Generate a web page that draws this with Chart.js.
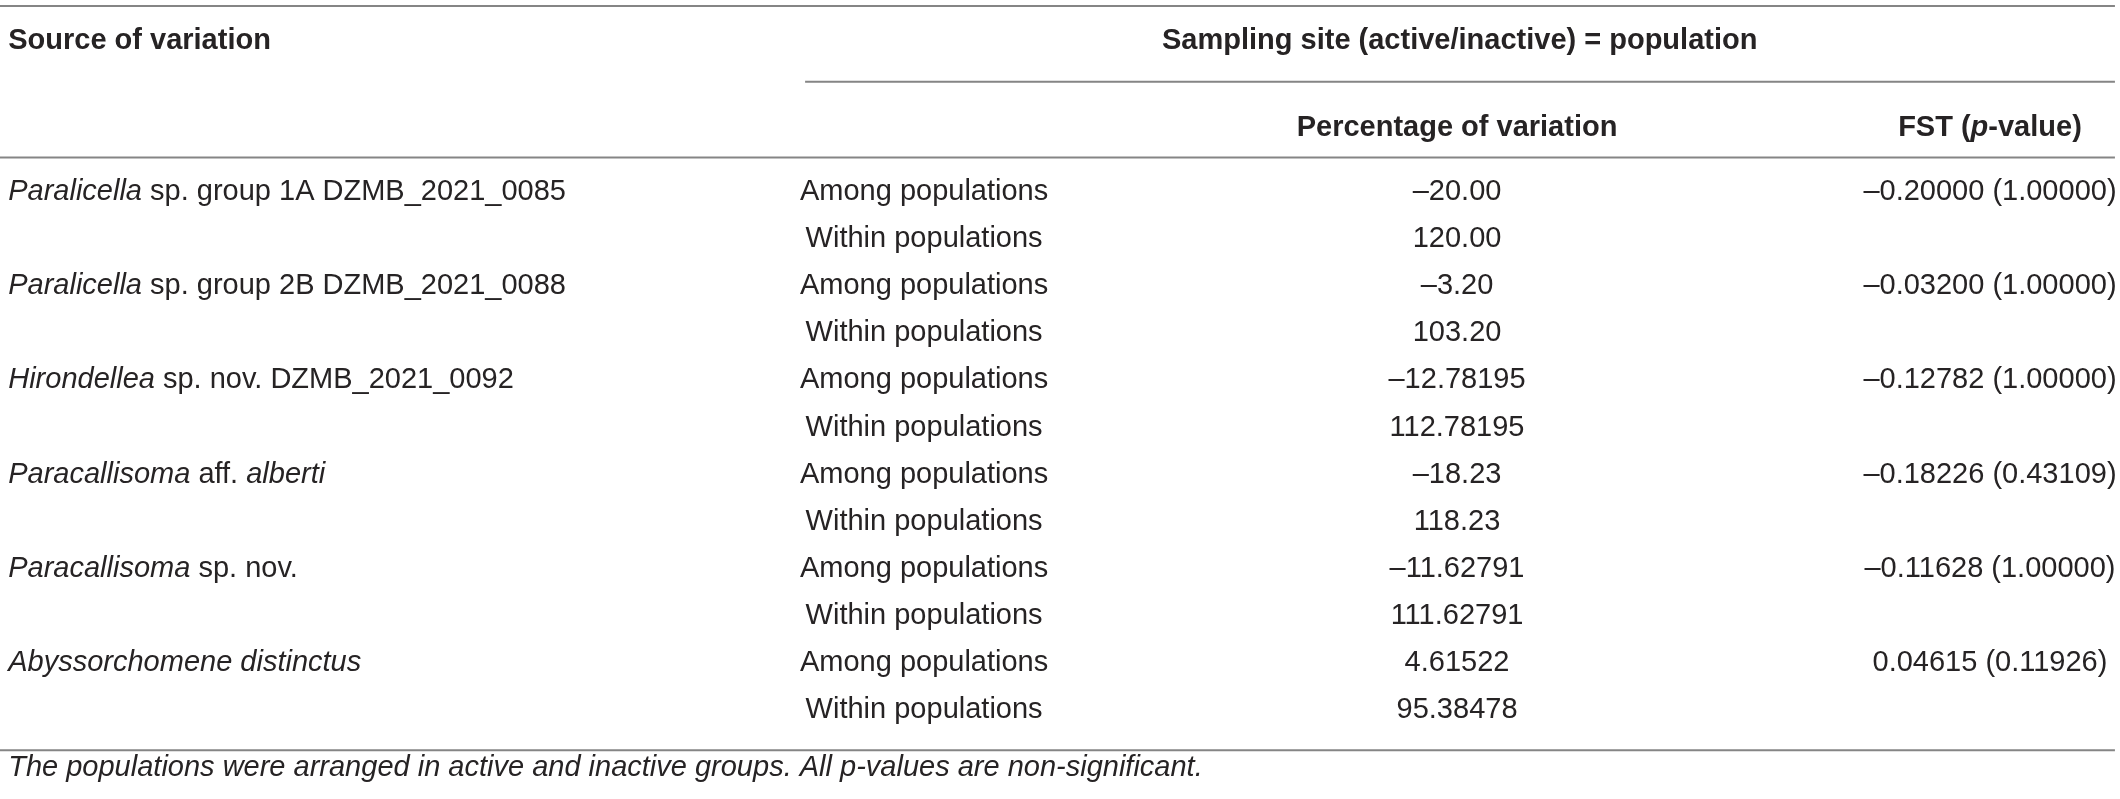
<!DOCTYPE html>
<html>
<head>
<meta charset="utf-8">
<script src="https://cdn.jsdelivr.net/npm/chart.js@4/dist/chart.umd.min.js"></script>
<style>
  html, body { margin: 0; padding: 0; background: #fff; }
  #wrap { width: 2120px; height: 799px; position: relative; }
</style>
</head>
<body>
<div id="wrap"><canvas id="table"></canvas></div>
<script>
// table content (asterisks mark italic parts)
const species = [
    '*Paralicella* sp. group 1A DZMB_2021_0085',
    '*Paralicella* sp. group 2B DZMB_2021_0088',
    '*Hirondellea* sp. nov. DZMB_2021_0092',
    '*Paracallisoma* aff. *alberti*',
    '*Paracallisoma* sp. nov.',
    '*Abyssorchomene distinctus*'
];
const sources = ['Among populations', 'Within populations'];
const percentAmong = [-20.00, -3.20, -12.78195, -18.23, -11.62791, 4.61522];
const percentWithin = [120.00, 103.20, 112.78195, 118.23, 111.62791, 95.38478];
const percentDecimals = [2, 2, 5, 2, 5, 5];
const fst = [-0.20000, -0.03200, -0.12782, -0.18226, -0.11628, 0.04615];
const pValue = [1.00000, 1.00000, 1.00000, 0.43109, 1.00000, 0.11926];
const headers = ['Source of variation', 'Sampling site (active/inactive) = population',
                 'Percentage of variation', 'FST (*p*-value)'];
const footnote = '*The populations were arranged in active and inactive groups. All p-values are non-significant.*';

const fmt = (v, d) => v.toFixed(d).replace('-', '\u2013');

// column anchors in x units (1 unit = one column step), rows in y units
const COL_LEFT = -0.7186, COL_SRC = 1, COL_PCT = 2, COL_FST = 3, SPAN_MID = 2.005;
const ROW_HEAD1 = -3.21, ROW_HEAD2 = -1.36, ROW_NOTE = 12.23;

const cells = [];
const cell = (x, y, text, align, weight) => cells.push({ x, y, text, align, weight: weight || 'normal' });

cell(COL_LEFT, ROW_HEAD1, headers[0], 'left', 'bold');
cell(SPAN_MID, ROW_HEAD1, headers[1], 'center', 'bold');
cell(COL_PCT, ROW_HEAD2, headers[2], 'center', 'bold');
cell(COL_FST, ROW_HEAD2, headers[3], 'center', 'bold');

species.forEach((name, i) => {
    const r = i * 2;
    cell(COL_LEFT, r, name, 'left');
    cell(COL_SRC, r, sources[0], 'center');
    cell(COL_SRC, r + 1, sources[1], 'center');
    cell(COL_PCT, r, fmt(percentAmong[i], percentDecimals[i]), 'center');
    cell(COL_PCT, r + 1, fmt(percentWithin[i], percentDecimals[i]), 'center');
    cell(COL_FST, r, fmt(fst[i], 5) + ' (' + fmt(pValue[i], 5) + ')', 'center');
});
cell(COL_LEFT, ROW_NOTE, footnote, 'left');

const rule = (x0, x1, y) => ({
    type: 'line',
    data: [{ x: x0, y }, { x: x1, y }],
    borderColor: '#858585',
    borderWidth: 2,
    pointRadius: 0
});

const textPlugin = {
    id: 'cellText',
    afterDatasetsDraw(chart) {
        const ctx = chart.ctx;
        const meta = chart.getDatasetMeta(0);
        ctx.save();
        ctx.fillStyle = '#262324';
        ctx.textBaseline = 'middle';
        ctx.textAlign = 'left';
        meta.data.forEach((pt, i) => {
            const c = cells[i];
            const parts = c.text.split('*').map((t, k) => ({ t, italic: k % 2 === 1 })).filter(p => p.t);
            const font = p => (p.italic ? 'italic ' : '') + c.weight + ' 29px "Liberation Sans", Arial, Helvetica, sans-serif';
            let w = 0;
            parts.forEach(p => { ctx.font = font(p); p.w = ctx.measureText(p.t).width; w += p.w; });
            let x = c.align === 'left' ? pt.x : c.align === 'center' ? pt.x - w / 2 : pt.x - w;
            parts.forEach(p => {
                ctx.font = font(p);
                ctx.fillText(p.t, x, pt.y);
                x += p.w;
            });
        });
        ctx.restore();
    }
};

new Chart(document.getElementById('table'), {
    type: 'scatter',
    data: {
        datasets: [
            { data: cells, pointRadius: 0, pointHoverRadius: 0 },
            rule(-0.734, 3.2345, -3.95),
            rule(0.7767, 3.2345, -2.34),
            rule(-0.734, 3.2345, -0.73),
            rule(-0.734, 3.2345, 11.85)
        ]
    },
    options: {
        responsive: true,
        maintainAspectRatio: false,
        animation: false,
        layout: { padding: 0 },
        plugins: { legend: { display: false }, tooltip: { enabled: false } },
        events: [],
        scales: {
            x: { type: 'linear', display: false, min: -0.734, max: 3.244 },
            y: { type: 'linear', display: false, reverse: true, min: -4.076, max: 12.887 }
        }
    },
    plugins: [textPlugin]
});
</script>
</body>
</html>
